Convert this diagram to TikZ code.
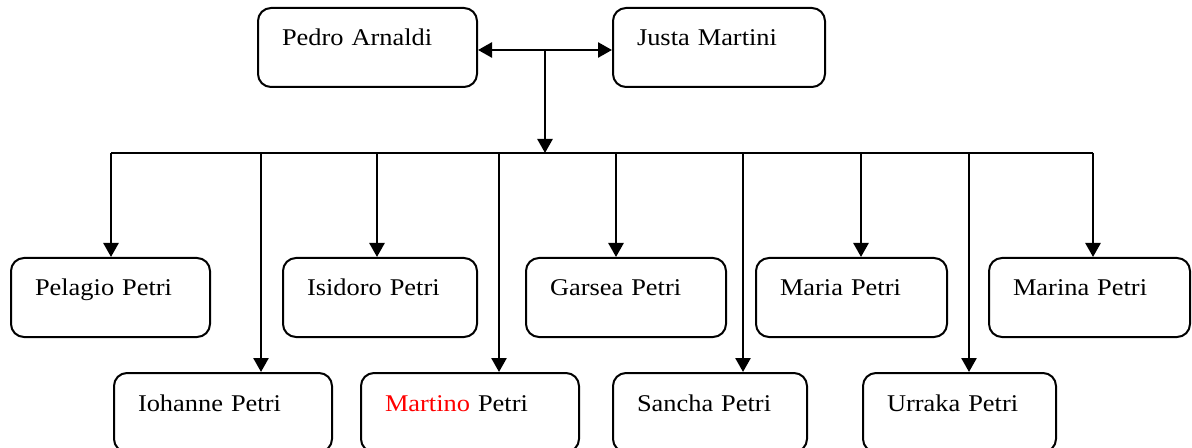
\documentclass[tikz,border=0pt]{standalone}
\usepackage{fontspec}
\setmainfont[FakeStretch=1.1]{Liberation Serif}
\usetikzlibrary{arrows.meta}

\begin{document}
\begin{tikzpicture}[x=0.5pt,y=-0.5pt,
  person/.style={draw, line width=1pt, rounded corners=6.5pt, anchor=north west,
    align=left, inner xsep=12pt, inner ysep=0pt, text height=19pt,
    text depth=20.5pt, font=\fontsize{12}{14}\selectfont},
  link/.style={draw, line width=1.3pt, ->},
  >={Triangle[length=7pt,width=7.5pt]}]
\useasboundingbox (0,0) rectangle (1192,448);
% parents
\node[person, text width=85.5pt] (pedro) at (257,7) {Pedro Arnaldi};
\node[person, text width=82pt] (justa) at (612,7) {Justa Martini};
% children, upper row
\node[person, text width=75.5pt] (pelagio) at (10,257) {Pelagio Petri};
\node[person, text width=73pt] (isidoro) at (282,257) {Isidoro Petri};
\node[person, text width=76pt] (garsea) at (525,257) {Garsea Petri};
\node[person, text width=71.5pt] (maria) at (755,257) {Maria Petri};
\node[person, text width=76.5pt] (marina) at (988,257) {Marina Petri};
% children, lower row
\node[person, text width=85pt] (iohanne) at (113,372) {Iohanne Petri};
\node[person, text width=85pt] (martino) at (360,372) {\textcolor{red}{Martino} Petri};
\node[person, text width=73pt] (sancha) at (612,372) {Sancha Petri};
\node[person, text width=72.5pt] (urraka) at (862,372) {Urraka Petri};
% marriage and descent
\coordinate (wed) at (545,50);
\path[link,<->] (pedro.east |- wed) -- (justa.west |- wed);
\foreach \x/\kid in {111/pelagio, 261/iohanne, 377/isidoro, 499/martino,
  616/garsea, 743/sancha, 861/maria, 969/urraka, 1093/marina}
{
  \coordinate (bus\kid) at (\x,153);
  \path[link] (bus\kid) -- (bus\kid |- \kid.north);
}
\path[draw, line width=1pt] (buspelagio) -- (busmarina);
\path[link] (wed) -- (wed |- buspelagio);
\end{tikzpicture}
\end{document}
